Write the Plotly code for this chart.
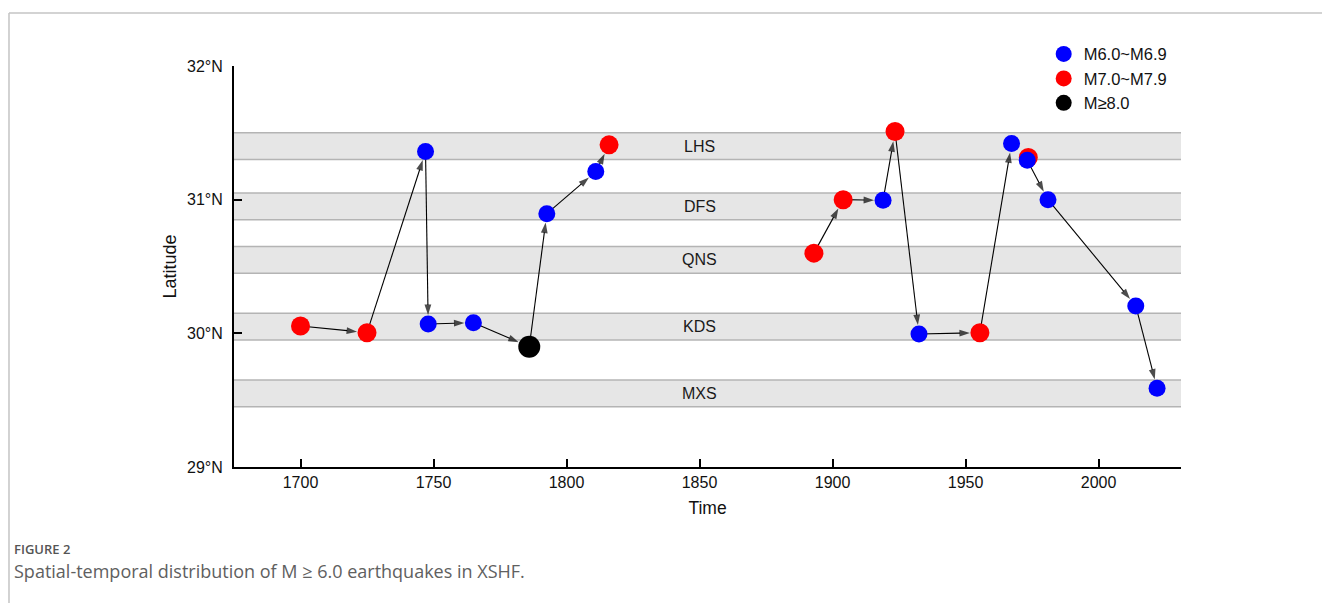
import plotly.graph_objects as go

# Earthquake events along the fault: year, latitude, magnitude class
years = [1700, 1725, 1747, 1748, 1765, 1786, 1792.6, 1811, 1816,
         1893, 1904, 1919, 1923.5, 1932.5, 1955.4, 1967.3, 1973.6, 1973.2,
         1981, 2014, 2022]
lats = [30.055, 30.005, 31.36, 30.07, 30.08, 29.90, 30.895, 31.21, 31.41,
        30.60, 31.00, 30.995, 31.51, 29.995, 30.005, 31.42, 31.315, 31.295,
        31.00, 30.205, 29.59]
mag_class = ["7", "7", "6", "6", "6", "8", "6", "6", "7",
             "7", "7", "6", "7", "6", "7", "6", "7", "6",
             "6", "6", "6"]

# Migration chains (indices into the event lists), drawn as arrows
chains = [[0, 1, 2, 3, 4, 5, 6, 7, 8],
          [9, 10, 11, 12, 13, 14, 15],
          [17, 18, 19, 20]]

# Fault segment bands: name, southern and northern latitude
segments = ["LHS", "DFS", "QNS", "KDS", "MXS"]
seg_low = [31.30, 30.85, 30.45, 29.95, 29.45]
seg_high = [31.50, 31.05, 30.65, 30.15, 29.65]

x_ticks = [1700, 1750, 1800, 1850, 1900, 1950, 2000]
y_ticks = [29, 30, 31, 32]
y_tick_text = ["29°N", "30°N", "31°N", "32°N"]

classes = {
    "6": dict(name="M6.0~M6.9", color="#0000ff", size=17, rank=1),
    "7": dict(name="M7.0~M7.9", color="#ff0000", size=19, rank=2),
    "8": dict(name="M≥8.0", color="#000000", size=22, rank=3),
}

FONT = "Liberation Sans, Arial, sans-serif"

fig = go.Figure()

# Arrows between successive events
for chain in chains:
    for a, b in zip(chain[:-1], chain[1:]):
        r_end = classes[mag_class[b]]["size"] / 2
        fig.add_trace(go.Scatter(
            x=[years[a], years[b]], y=[lats[a], lats[b]],
            mode="lines+markers",
            line=dict(color="black", width=1.1),
            marker=dict(symbol=["circle", "arrow"], size=[0, 11],
                        color="black", angleref="previous",
                        standoff=[0, r_end + 0.5], line=dict(width=0)),
            showlegend=False, hoverinfo="skip",
        ))

# Event markers; red drawn before blue so blue sits on top where they touch
for key in ["7", "6", "8"]:
    c = classes[key]
    idx = [i for i, m in enumerate(mag_class) if m == key]
    fig.add_trace(go.Scatter(
        x=[years[i] for i in idx], y=[lats[i] for i in idx],
        mode="markers", name=c["name"], legendrank=c["rank"],
        marker=dict(color=c["color"], size=c["size"], line=dict(width=0)),
    ))

shapes = []
annotations = []
for name, lo, hi in zip(segments, seg_low, seg_high):
    shapes.append(dict(type="rect", xref="paper", yref="y", x0=0, x1=1,
                       y0=lo, y1=hi, fillcolor="#e6e6e6",
                       line=dict(width=0), layer="below"))
    for yy in (lo, hi):
        shapes.append(dict(type="line", xref="paper", yref="y", x0=0, x1=1,
                           y0=yy, y1=yy, line=dict(color="#b4b4b4", width=1.5),
                           layer="below"))
    annotations.append(dict(x=1850, y=(lo + hi) / 2, xref="x", yref="y",
                            text=name, showarrow=False,
                            font=dict(family=FONT, size=16, color="#1a1a1a")))

# Outer frame lines (top and left)
shapes.append(dict(type="line", xref="paper", yref="paper",
                   x0=-0.2376, x1=1.2, y0=1.1322, y1=1.1322,
                   line=dict(color="#c4c4c4", width=1.5)))
shapes.append(dict(type="line", xref="paper", yref="paper",
                   x0=-0.2376, x1=-0.2376, y0=1.1322, y1=-0.4,
                   line=dict(color="#c4c4c4", width=1.5)))

# Caption
annotations.append(dict(x=-0.2345, y=-0.2045, xref="paper", yref="paper",
                        xanchor="left", yanchor="middle", showarrow=False,
                        text="FIGURE 2",
                        font=dict(family="Open Sans, sans-serif", size=13,
                                  color="#555555", weight=600)))
annotations.append(dict(x=-0.2345, y=-0.2595, xref="paper", yref="paper",
                        xanchor="left", yanchor="middle", showarrow=False,
                        text="Spatial-temporal distribution of M ≥ 6.0 earthquakes in XSHF.",
                        font=dict(family="Open Sans, sans-serif", size=18,
                                  color="#606060")))

axis_common = dict(showline=True, linecolor="black", linewidth=2,
                   ticks="inside", ticklen=8, tickwidth=1.5, tickcolor="black",
                   showgrid=False, zeroline=False,
                   tickfont=dict(family=FONT, size=16, color="#111111"))

fig.update_layout(
    width=1322, height=603,
    margin=dict(l=234, r=141, t=66, b=136),
    paper_bgcolor="white", plot_bgcolor="white",
    xaxis=dict(range=[1675, 2031], tickvals=x_ticks,
               title=dict(text="Time", standoff=12,
                          font=dict(family=FONT, size=17.5, color="#111111")),
               **axis_common),
    yaxis=dict(range=[29, 32], tickvals=y_ticks, ticktext=y_tick_text,
               ticklabelstandoff=6,
               title=dict(text="Latitude", standoff=6,
                          font=dict(family=FONT, size=18, color="#111111")),
               **axis_common),
    legend=dict(x=0.855, y=1.073, xanchor="left", yanchor="top",
                bgcolor="rgba(0,0,0,0)", itemsizing="trace",
                font=dict(family=FONT, size=16.5, color="#111111")),
    shapes=shapes, annotations=annotations,
    showlegend=True,
)

fig.write_html("out.html")
